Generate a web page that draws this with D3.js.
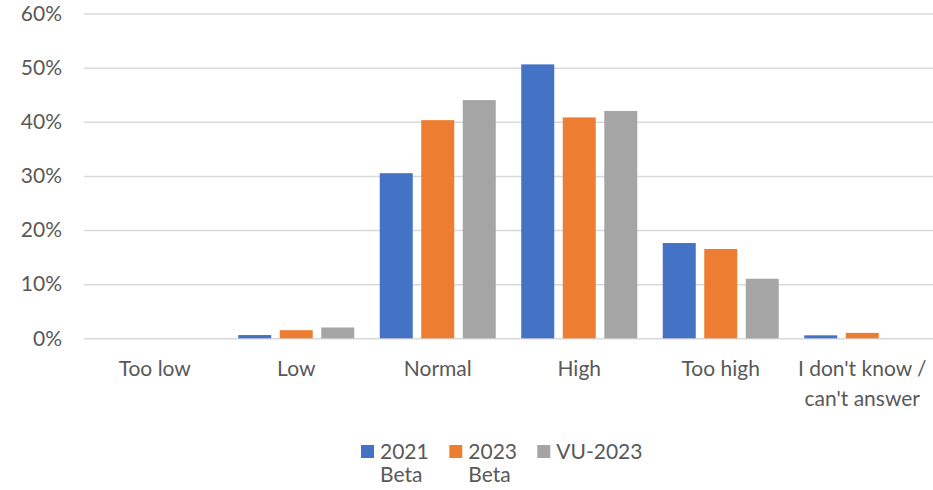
<!DOCTYPE html>
<html>
<head>
<meta charset="utf-8">
<script src="https://cdn.jsdelivr.net/npm/d3@7"></script>
<style>
  body { margin: 0; background: #fff; }
  svg { display: block; font-family: Lato, "Open Sans", sans-serif; }
</style>
</head>
<body>
<svg id="chart" width="933" height="490"></svg>
<script>
// Answer categories (multi-line labels split on "\n")
const categories = ["Too low", "Low", "Normal", "High", "Too high", "I don't know /\ncan't answer"];
// Survey waves
const seriesNames = ["2021\nBeta", "2023\nBeta", "VU-2023"];
const seriesColors = ["#4472C4", "#ED7D31", "#A5A5A5"];
// Share of respondents (%) per category, one array per wave
const values2021Beta = [0, 0.6, 30.5, 50.6, 17.6, 0.55];
const values2023Beta = [0, 1.5, 40.3, 40.8, 16.5, 1.0];
const valuesVU2023 = [0, 2.0, 44.0, 42.0, 11.0, 0];
const yTicks = [0, 10, 20, 30, 40, 50, 60];

const seriesValues = [values2021Beta, values2023Beta, valuesVU2023];

const svg = d3.select("#chart");
const margin = { left: 84, right: 0, top: 13.5, bottom: 151.7 };
const width = 933, height = 490;
const textColor = "#595959";
const fontSize = "21px";

const x = d3.scaleBand()
  .domain(categories)
  .range([margin.left, width - margin.right])
  .paddingInner(0).paddingOuter(0);

const y = d3.scaleLinear()
  .domain([0, 60])
  .range([height - margin.bottom, margin.top]);

const xInner = d3.scaleBand()
  .domain(d3.range(seriesNames.length))
  .range([0, x.bandwidth()])
  .paddingInner(0.205)
  .paddingOuter(0.307);

// Gridlines and y-axis labels
const yAxis = d3.axisLeft(y)
  .tickValues(yTicks)
  .tickFormat(d => d + "%")
  .tickSize(-(width - margin.left - margin.right))
  .tickPadding(22);

const gy = svg.append("g")
  .attr("transform", `translate(${margin.left},0)`)
  .call(yAxis);
gy.select(".domain").remove();
gy.selectAll(".tick line").attr("stroke", "#d9d9d9").attr("stroke-width", 1.5);
gy.selectAll(".tick text")
  .attr("fill", textColor)
  .style("font-size", fontSize)
  .style("font-family", "Lato, 'Open Sans', sans-serif");

// Bars
const groups = svg.append("g").selectAll("g")
  .data(categories)
  .join("g")
  .attr("transform", d => `translate(${x(d)},0)`);

groups.selectAll("rect")
  .data((c, ci) => seriesValues.map((vals, si) => ({ si, v: vals[ci] })))
  .join("rect")
  .attr("x", d => xInner(d.si))
  .attr("width", xInner.bandwidth())
  .attr("y", d => y(d.v))
  .attr("height", d => y(0) - y(d.v))
  .attr("fill", d => seriesColors[d.si]);

// Category labels
const xLabels = svg.append("g").selectAll("text")
  .data(categories)
  .join("text")
  .attr("x", d => x(d) + x.bandwidth() / 2)
  .attr("y", 376)
  .attr("text-anchor", "middle")
  .attr("fill", textColor)
  .style("font-size", fontSize);
xLabels.selectAll("tspan")
  .data(d => d.split("\n"))
  .join("tspan")
  .attr("x", function () { return d3.select(this.parentNode).attr("x"); })
  .attr("dy", (d, i) => i === 0 ? 0 : 30)
  .text(d => d);

// Legend
const legendX = [361, 449.3, 537.3];
const legend = svg.append("g").selectAll("g")
  .data(seriesNames)
  .join("g")
  .attr("transform", (d, i) => `translate(${legendX[i]},445)`);
legend.append("rect")
  .attr("width", 13).attr("height", 13)
  .attr("fill", (d, i) => seriesColors[i]);
const lt = legend.append("text")
  .attr("x", 19)
  .attr("y", 14)
  .attr("fill", textColor)
  .style("font-size", fontSize);
lt.selectAll("tspan")
  .data(d => d.split("\n"))
  .join("tspan")
  .attr("x", 19)
  .attr("dy", (d, i) => i === 0 ? 0 : 23)
  .text(d => d);
</script>
</body>
</html>
